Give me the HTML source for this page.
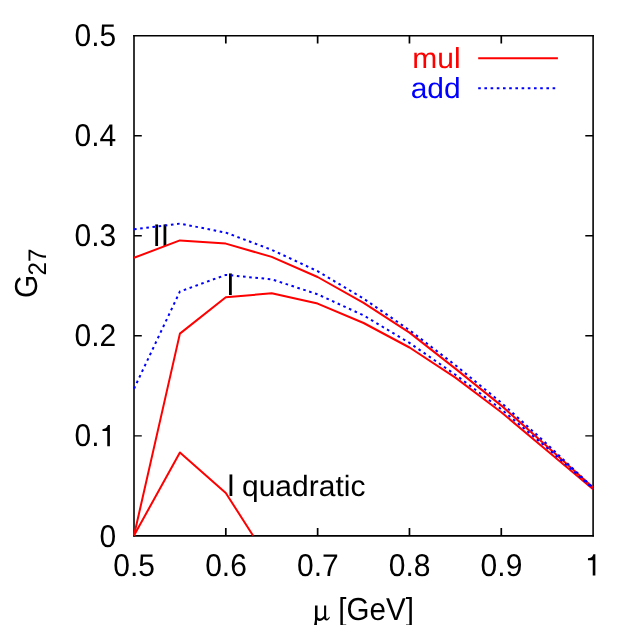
<!DOCTYPE html>
<html><head><meta charset="utf-8"><title>G27</title>
<style>
html,body{margin:0;padding:0;background:#fff;}
svg{display:block;will-change:transform;}
text{text-rendering:geometricPrecision;font-family:"Liberation Sans",sans-serif;font-size:30px;fill:#000;}
</style></head><body>
<svg width="644" height="625" viewBox="0 0 644 625">
<rect width="644" height="625" fill="#fff"/>
<g fill="none" stroke="#000">
<path d="M134.0,35.03 V536.52 M593.1,35.03 V536.52" stroke-width="1.58"/>
<path d="M225.82,535.8 v-7.8 M225.82,35.75 v7.8 M317.64,535.8 v-7.8 M317.64,35.75 v7.8 M409.46,535.8 v-7.8 M409.46,35.75 v7.8 M501.28,535.8 v-7.8 M501.28,35.75 v7.8" stroke-width="1.7"/>
<path d="M133.20,35.75 H593.90" stroke-width="1.45"/>
<path d="M134.0,435.79 h7.8 M593.1,435.79 h-7.8 M134.0,335.78 h7.8 M593.1,335.78 h-7.8 M134.0,235.77 h7.8 M593.1,235.77 h-7.8 M134.0,135.76 h7.8 M593.1,135.76 h-7.8" stroke-width="1.32"/>
<path d="M133.15,535.85 H593.95" stroke-width="1.75"/>
</g>
<text transform="translate(134.20,575.80) scale(1,1.045)" text-anchor="middle">0.5</text><text transform="translate(226.02,575.80) scale(1,1.045)" text-anchor="middle">0.6</text><text transform="translate(317.84,575.80) scale(1,1.045)" text-anchor="middle">0.7</text><text transform="translate(409.66,575.80) scale(1,1.045)" text-anchor="middle">0.8</text><text transform="translate(501.48,575.80) scale(1,1.045)" text-anchor="middle">0.9</text><path transform="translate(584.60,575.40) scale(0.03,-0.03)" d="M359,0 L271,0 L271,505 L112,505 L112,568 C190,572 262,600 293,703 L359,703 Z" fill="#000"/>
<text transform="translate(116.30,546.50) scale(1,1.045)" text-anchor="end">0</text><text transform="translate(116.30,346.48) scale(1,1.045)" text-anchor="end">0.2</text><text transform="translate(116.30,246.47) scale(1,1.045)" text-anchor="end">0.3</text><text transform="translate(116.30,146.46) scale(1,1.045)" text-anchor="end">0.4</text><text transform="translate(116.30,46.45) scale(1,1.045)" text-anchor="end">0.5</text><text transform="translate(99.50,446.49) scale(1,1.045)" text-anchor="end">0.</text><path transform="translate(99.13,446.19) scale(0.03,-0.03)" d="M359,0 L271,0 L271,505 L112,505 L112,568 C190,572 262,600 293,703 L359,703 Z" fill="#000"/>
<text transform="translate(152.50,245.80) scale(1,1.045)" text-anchor="start">II</text>
<text transform="translate(226.30,295.40) scale(1,1.045)" text-anchor="start">I</text>
<text transform="translate(226.80,495.90) scale(1,1.045)" text-anchor="start">I</text>
<text transform="translate(242.00,495.70) scale(1,0.975)" text-anchor="start">quadratic</text>
<g fill="none" stroke-width="2" stroke-linejoin="round">
<path d="M134.0,257.8 L179.9,240.4 L225.8,243.6 L271.7,256.9 L317.6,277.0 L363.6,302.9 L409.5,332.6 L455.4,368.6 L501.3,405.6 L547.2,446.6 L593.1,487.6" stroke="#ff0000"/>
<path d="M134.0,535.5 L179.9,333.6 L225.8,297.3 L271.7,293.3 L317.6,303.6 L363.6,323.0 L409.5,347.5 L455.4,377.6 L501.3,412.2 L547.2,450.7 L593.1,489.3" stroke="#ff0000"/>
<path d="M134.0,535.5 L179.9,452.5 L225.8,493.0 L253.0,535.5" stroke="#ff0000"/>
<path d="M134.0,229.3 L179.9,223.6 L225.8,232.6 L271.7,249.8 L317.6,271.2 L363.6,298.6 L409.5,330.2 L455.4,365.2 L501.3,402.7 L547.2,444.2 L593.1,487.8" stroke="#0000ff" stroke-dasharray="2.6 3.6"/>
<path d="M134.0,388.7 L179.9,291.5 L225.8,274.9 L271.7,279.3 L317.6,294.3 L363.6,315.4 L409.5,342.9 L455.4,374.7 L501.3,409.3 L547.2,448.0 L593.1,488.6" stroke="#0000ff" stroke-dasharray="2.6 3.6"/>
<path d="M478.2,58.2 H557.9" stroke="#ff0000"/>
<path d="M478.2,88.2 H557.4" stroke="#0000ff" stroke-dasharray="2.6 3.6"/>
</g>
<text transform="translate(460.70,67.90) scale(1,0.965)" text-anchor="end" style="fill:#ff0000">mul</text>
<text transform="translate(460.70,97.80) scale(1,0.965)" text-anchor="end" style="fill:#0000ff">add</text>
<path transform="translate(308,597) scale(0.046577)" fill="#000" d="M150,180 L205,180 L205,430 C215,470 290,480 345,400 L345,180 L390,180 L390,440 C395,475 430,480 455,425 L470,432 C450,500 400,530 355,485 C350,478 347,470 345,462 C310,520 230,530 192,495 L192,620 L128,620 C135,560 150,520 150,470 Z"/>
<text transform="translate(413.90,620.30) scale(0.985,1.06)" text-anchor="end">[GeV]</text>
<text transform="translate(36.6,298.1) rotate(-90) scale(1,1.06)">G<tspan dy="8.5" dx="-0.7" style="font-size:24px">27</tspan></text>
</svg>
</body></html>
